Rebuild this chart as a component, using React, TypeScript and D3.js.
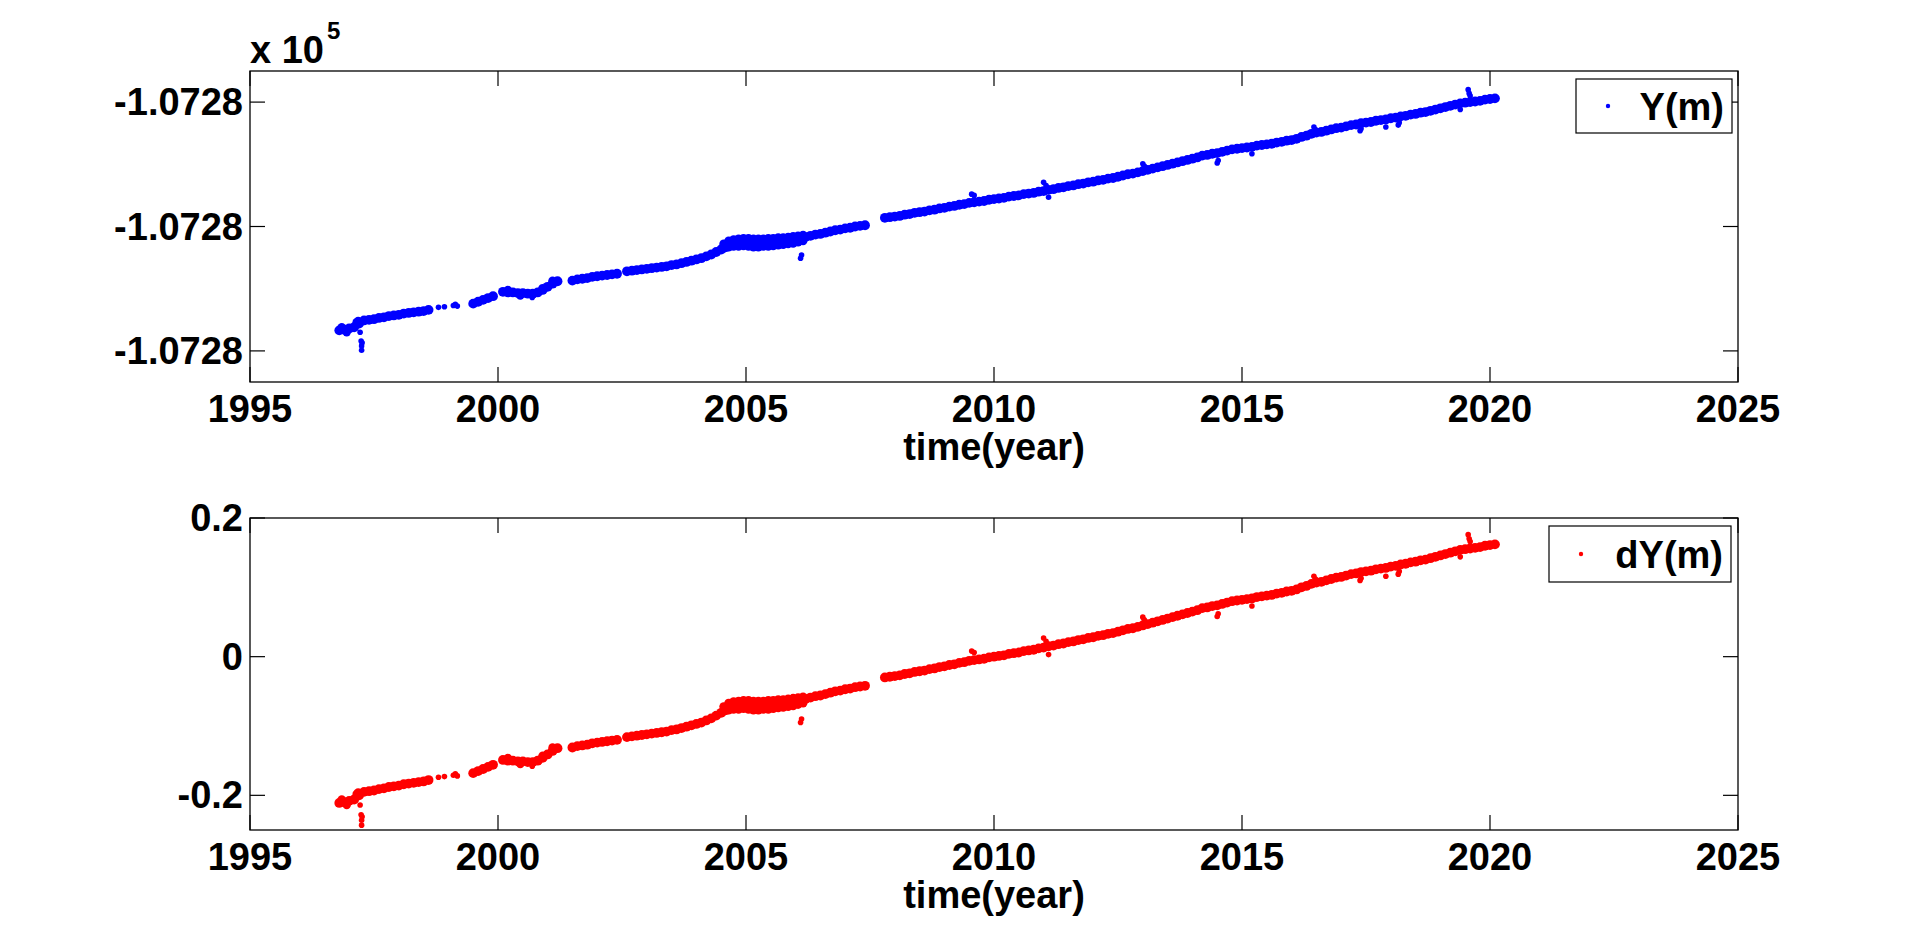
import React from 'react';
import * as d3 from 'd3';

// ---------- data ----------
const sampleStep = 0.1; // years between samples inside continuous stretches
const segmentStarts = [1996.8, 1997.3, 1999.5, 2000.1, 2001.5, 2002.6, 2007.8];

const seg1997 = [-0.211, -0.21, -0.208, -0.206, -0.2];
const seg1998 = [-0.195, -0.194, -0.193, -0.191, -0.19, -0.188, -0.187, -0.186, -0.184, -0.183, -0.182, -0.181, -0.18, -0.178];
const seg1999 = [-0.168, -0.165, -0.162, -0.159, -0.156];
const seg2000 = [-0.149, -0.15, -0.15, -0.151, -0.151, -0.152, -0.152, -0.15, -0.146, -0.141, -0.136, -0.132];
const seg2001 = [-0.131, -0.129, -0.128, -0.127, -0.125, -0.124, -0.123, -0.122, -0.121, -0.12];
const seg2003 = [
  -0.116, -0.115, -0.114, -0.113, -0.112, -0.111, -0.11, -0.109, -0.108, -0.106,
  -0.105, -0.103, -0.101, -0.099, -0.097, -0.095, -0.092, -0.089, -0.085, -0.081,
  -0.077, -0.074, -0.072, -0.07, -0.069, -0.07, -0.07, -0.071, -0.07, -0.069,
  -0.069, -0.068, -0.067, -0.066, -0.065, -0.063, -0.061, -0.059, -0.057, -0.056,
  -0.054, -0.052, -0.05, -0.049, -0.047, -0.046, -0.044, -0.043, -0.042,
];
const seg2008 = [
  -0.03, -0.029, -0.028, -0.027, -0.025, -0.024, -0.022, -0.021, -0.02, -0.018,
  -0.017, -0.015, -0.014, -0.012, -0.011, -0.009, -0.008, -0.006, -0.005, -0.004,
  -0.003, -0.001, 0.0, 0.001, 0.002, 0.004, 0.005, 0.006, 0.008, 0.009,
  0.01, 0.012, 0.013, 0.015, 0.016, 0.018, 0.019, 0.021, 0.022, 0.024,
  0.025, 0.027, 0.028, 0.03, 0.031, 0.033, 0.034, 0.036, 0.038, 0.04,
  0.041, 0.043, 0.045, 0.047, 0.049, 0.051, 0.053, 0.055, 0.057, 0.059,
  0.061, 0.063, 0.065, 0.067, 0.07, 0.071, 0.073, 0.074, 0.076, 0.078,
  0.08, 0.081, 0.082, 0.083, 0.084, 0.086, 0.087, 0.088, 0.089, 0.091,
  0.092, 0.094, 0.095, 0.097, 0.1, 0.102, 0.105, 0.107, 0.108, 0.11,
  0.112, 0.114, 0.115, 0.117, 0.119, 0.12, 0.122, 0.123, 0.124, 0.126,
  0.127, 0.128, 0.13, 0.131, 0.133, 0.134, 0.136, 0.137, 0.139, 0.14,
  0.142, 0.144, 0.146, 0.148, 0.15, 0.152, 0.154, 0.155, 0.156, 0.157,
  0.158, 0.16, 0.161, 0.162,
];
const segments = [seg1997, seg1998, seg1999, seg2000, seg2001, seg2003, seg2008];

// upper and lower edge of the thick stretch 2004.5–2006.2 (same sampling as above, offset 0.05 yr)
const spreadStart = 2004.55;
const spreadUpper = [-0.072, -0.067, -0.065, -0.064, -0.063, -0.063, -0.064, -0.064, -0.064, -0.063, -0.063, -0.062, -0.062, -0.061, -0.06, -0.059, -0.058];
const spreadLower = [-0.079, -0.077, -0.076, -0.076, -0.075, -0.076, -0.077, -0.077, -0.076, -0.076, -0.075, -0.074, -0.073, -0.072, -0.071, -0.069, -0.067];

// isolated epochs, spikes and dips: [year, dY]
const sparseEpochs: [number, number][] = [
  [1998.8, -0.174], [1998.92, -0.173], [1999.1, -0.171], [1999.14, -0.169], [1999.18, -0.172],
];
const scatterEpochs: [number, number][] = [
  [1996.85, -0.206], [1996.95, -0.214], [1997.15, -0.198], [1997.18, -0.196],
  [2000.2, -0.146], [2000.45, -0.155], [2000.9, -0.143], [2001.1, -0.131],
];
const outlierEpochs: [number, number][] = [
  [1997.22, -0.214], [1997.24, -0.228], [1997.25, -0.236], [1997.25, -0.243], [1997.26, -0.231],
  [2000.69, -0.158],
  [2006.1, -0.095], [2006.12, -0.09],
  [2009.55, 0.008], [2009.6, 0.006],
  [2011.0, 0.027], [2011.05, 0.022], [2011.1, 0.003],
  [2013.0, 0.057], [2013.03, 0.053],
  [2014.5, 0.058], [2014.52, 0.062],
  [2015.2, 0.073],
  [2016.45, 0.116], [2016.48, 0.112],
  [2017.38, 0.11], [2017.4, 0.113],
  [2017.9, 0.116],
  [2018.15, 0.119], [2018.17, 0.123],
  [2019.4, 0.144],
  [2019.56, 0.176], [2019.58, 0.17], [2019.6, 0.166],
];

// Y = reference + dY
const yReference = -107279.956;

const xTicks = [1995, 2000, 2005, 2010, 2015, 2020, 2025];
const yTopTicks = [-107280.2, -107280.0, -107279.8];
const dyTicks = [-0.2, 0, 0.2];

// ---------- layout ----------
const W = 1920;
const H = 944;
const LEFT = 250;
const RIGHT = 1738;
const FONT = "'Liberation Sans', Arial, Helvetica, sans-serif";
const FS = 38;
const TICK = 15;

type Pt = { t: number; v: number; r: number };

const dyPoints: Pt[] = [
  ...segments.flatMap((vals, k) =>
    vals.map((v, i) => ({ t: +(segmentStarts[k] + i * sampleStep).toFixed(3), v, r: 4.9 }))
  ),
  ...[spreadUpper, spreadLower].flatMap((vals) =>
    vals.map((v, i) => ({ t: +(spreadStart + i * sampleStep).toFixed(3), v, r: 4.4 }))
  ),
  ...scatterEpochs.map(([t, v]) => ({ t, v, r: 4.2 })),
  ...sparseEpochs.map(([t, v]) => ({ t, v, r: 2.8 })),
  ...outlierEpochs.map(([t, v]) => ({ t, v, r: 2.8 })),
];

const x = d3.scaleLinear().domain([1995, 2025]).range([LEFT, RIGHT]);

type PanelProps = {
  top: number;
  bottom: number;
  domain: [number, number];
  ticks: number[];
  fmt: (d: number) => string;
  color: string;
  toValue: (dy: number) => number;
  legend: { x: number; y: number; w: number; h: number; label: string };
};

function Panel({ top, bottom, domain, ticks, fmt, color, toValue, legend }: PanelProps) {
  const y = d3.scaleLinear().domain(domain).range([bottom, top]);
  return (
    <g>
      <rect x={LEFT} y={top} width={RIGHT - LEFT} height={bottom - top} fill="#fff" />
      <g fill={color}>
        {dyPoints.map((p, i) => (
          <circle key={i} cx={x(p.t)} cy={y(toValue(p.v))} r={p.r} />
        ))}
      </g>
      <rect x={LEFT} y={top} width={RIGHT - LEFT} height={bottom - top} fill="none" stroke="#000" strokeWidth={1.3} />
      {xTicks.map((t) => (
        <g key={t}>
          <line x1={x(t)} x2={x(t)} y1={bottom} y2={bottom - TICK} stroke="#000" strokeWidth={1.2} />
          <line x1={x(t)} x2={x(t)} y1={top} y2={top + TICK} stroke="#000" strokeWidth={1.2} />
          <text x={x(t)} y={bottom + 40} textAnchor="middle" fontFamily={FONT} fontWeight="bold" fontSize={FS}>
            {t}
          </text>
        </g>
      ))}
      {ticks.map((t) => (
        <g key={t}>
          <line x1={LEFT} x2={LEFT + TICK} y1={y(t)} y2={y(t)} stroke="#000" strokeWidth={1.2} />
          <line x1={RIGHT} x2={RIGHT - TICK} y1={y(t)} y2={y(t)} stroke="#000" strokeWidth={1.2} />
          <text x={243} y={y(t) + 13} textAnchor="end" fontFamily={FONT} fontWeight="bold" fontSize={FS}>
            {fmt(t)}
          </text>
        </g>
      ))}
      <text x={(LEFT + RIGHT) / 2} y={bottom + 78} textAnchor="middle" fontFamily={FONT} fontWeight="bold" fontSize={FS}>
        time(year)
      </text>
      <g>
        <rect x={legend.x} y={legend.y} width={legend.w} height={legend.h} fill="#fff" stroke="#000" strokeWidth={1.2} />
        <circle cx={legend.x + 32} cy={legend.y + legend.h / 2} r={2.2} fill={color} />
        <text
          x={legend.x + legend.w - 8}
          y={legend.y + legend.h / 2 + 14}
          textAnchor="end"
          fontFamily={FONT}
          fontWeight="bold"
          fontSize={FS}
        >
          {legend.label}
        </text>
      </g>
    </g>
  );
}

export default function App() {
  return (
    <svg
      width={W}
      height={H}
      viewBox={`0 0 ${W} ${H}`}
      style={{ position: 'absolute', left: 0, top: 0, background: '#fff' }}
    >
      <rect x={0} y={0} width={W} height={H} fill="#fff" />
      <text x={250} y={63} fontFamily={FONT} fontWeight="bold" fontSize={FS}>
        x 10
      </text>
      <text x={327} y={39} fontFamily={FONT} fontWeight="bold" fontSize={24}>
        5
      </text>
      <Panel
        top={71}
        bottom={382}
        domain={[-107280.25, -107279.75]}
        ticks={yTopTicks}
        fmt={(d) => (d / 1e5).toFixed(4)}
        color="#0000ff"
        toValue={(dy) => yReference + dy}
        legend={{ x: 1576, y: 79, w: 156, h: 54, label: 'Y(m)' }}
      />
      <Panel
        top={518}
        bottom={830}
        domain={[-0.25, 0.2]}
        ticks={dyTicks}
        fmt={(d) => String(+d.toFixed(1))}
        color="#ff0000"
        toValue={(dy) => dy}
        legend={{ x: 1549, y: 526, w: 182, h: 56, label: 'dY(m)' }}
      />
    </svg>
  );
}
